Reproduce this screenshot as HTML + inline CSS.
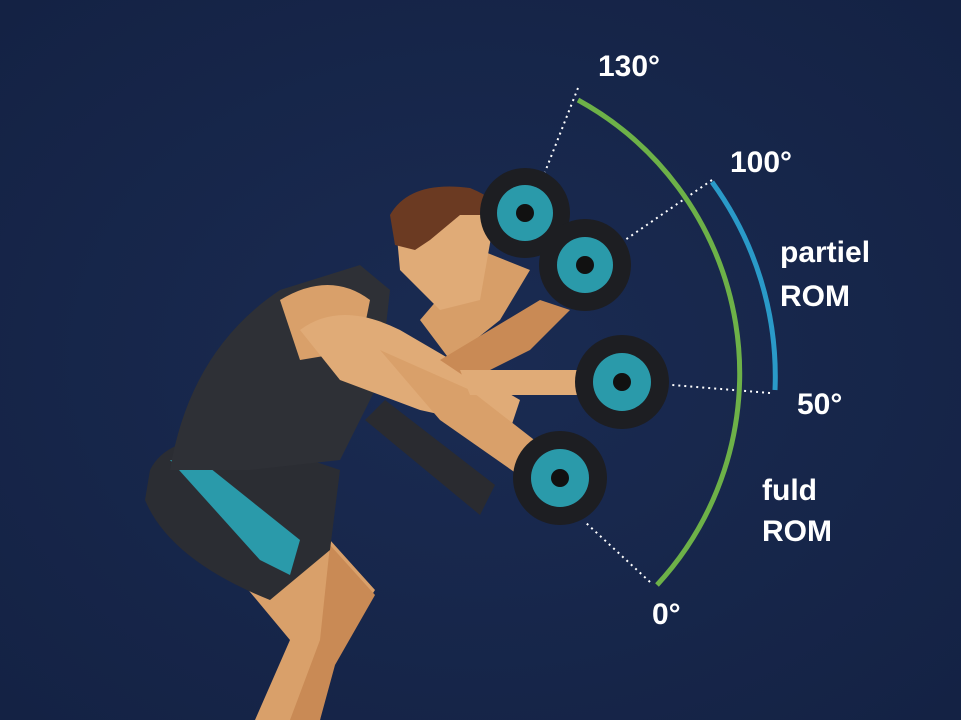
<!DOCTYPE html>
<html><head><meta charset="utf-8"><style>
html,body{margin:0;padding:0;background:#17264a;}
svg{display:block}
text{font-family:"Liberation Sans",sans-serif;font-weight:bold;fill:#fff}
</style></head><body>
<svg width="961" height="720" viewBox="0 0 961 720">
<defs><radialGradient id="bg" cx="0.5" cy="0.5" r="0.7"><stop offset="0" stop-color="#1a2b52"/><stop offset="1" stop-color="#142244"/></radialGradient></defs>
<rect width="961" height="720" fill="url(#bg)"/>
<!-- legs -->
<path d="M240,580 L330,540 L375,590 L330,660 L320,720 L255,720 L290,640 Z" fill="#d9a06a"/>
<path d="M330,545 L375,595 L335,665 L320,720 L290,720 L320,640 Z" fill="#c98a55"/>
<!-- shorts -->
<path d="M150,470 Q170,430 250,440 L340,470 L330,550 L270,600 Q170,560 145,500 Z" fill="#2b2d33"/>
<path d="M170,460 L200,460 L300,540 L290,575 L260,560 Z" fill="#2a9aaa"/>
<!-- torso -->
<path d="M170,470 Q190,350 280,290 L360,265 L390,290 L380,380 L340,460 L250,470 Z" fill="#2e3036"/>
<path d="M280,300 Q330,270 370,300 L360,350 L300,360 Z" fill="#d9a06a"/>
<!-- bench pad -->
<path d="M365,420 L385,400 L495,485 L480,515 Z" fill="#2a2b30"/>
<!-- arms -->
<path d="M300,330 Q340,300 400,330 L520,400 L510,430 L420,410 L340,380 Z" fill="#e0ab77"/>
<path d="M380,350 L470,390 L560,460 L540,490 L440,420 Z" fill="#d9a06a"/>
<path d="M420,320 L480,250 L530,270 L500,320 L450,360 Z" fill="#d79e68"/>
<path d="M440,360 L540,300 L570,310 L530,350 L470,380 Z" fill="#c98a55"/>
<path d="M460,370 L590,370 L590,395 L470,395 Z" fill="#e0ab77"/>
<!-- head -->
<path d="M395,215 Q420,180 470,190 L495,215 L480,300 L440,310 L400,270 Z" fill="#e0ab77"/>
<path d="M390,215 Q410,180 470,188 Q500,200 500,215 L460,215 L430,240 L415,250 L395,245 Z" fill="#6b3a22"/>
<!-- dotted lines -->
<g stroke="#fff" stroke-width="2" stroke-dasharray="2 4" fill="none">
<line x1="578" y1="88" x2="545" y2="172"/>
<line x1="712" y1="180" x2="625" y2="240"/>
<line x1="770" y1="393" x2="672" y2="385"/>
<line x1="650" y1="582" x2="585" y2="522"/>
</g>
<!-- arcs -->
<path d="M578,100 A312,312 0 0 1 657,585" stroke="#6db148" stroke-width="5" fill="none"/>
<path d="M712,182 A330,330 0 0 1 775,390" stroke="#2a9ac8" stroke-width="5" fill="none"/>
<!-- dumbbells -->
<g>
<circle cx="525" cy="213" r="45" fill="#1d1e22"/><circle cx="525" cy="213" r="28" fill="#2a9aaa"/><circle cx="525" cy="213" r="9" fill="#111"/>
<circle cx="585" cy="265" r="46" fill="#1d1e22"/><circle cx="585" cy="265" r="28" fill="#2a9aaa"/><circle cx="585" cy="265" r="9" fill="#111"/>
<circle cx="622" cy="382" r="47" fill="#1d1e22"/><circle cx="622" cy="382" r="29" fill="#2a9aaa"/><circle cx="622" cy="382" r="9" fill="#111"/>
<circle cx="560" cy="478" r="47" fill="#1d1e22"/><circle cx="560" cy="478" r="29" fill="#2a9aaa"/><circle cx="560" cy="478" r="9" fill="#111"/>
</g>
<text x="598" y="76" font-size="30">130°</text>
<text x="730" y="172" font-size="30">100°</text>
<text x="780" y="262" font-size="30">partiel</text>
<text x="780" y="306" font-size="30">ROM</text>
<text x="797" y="414" font-size="30">50°</text>
<text x="762" y="500" font-size="30">fuld</text>
<text x="762" y="541" font-size="30">ROM</text>
<text x="652" y="624" font-size="30">0°</text>
</svg>
</body></html>
